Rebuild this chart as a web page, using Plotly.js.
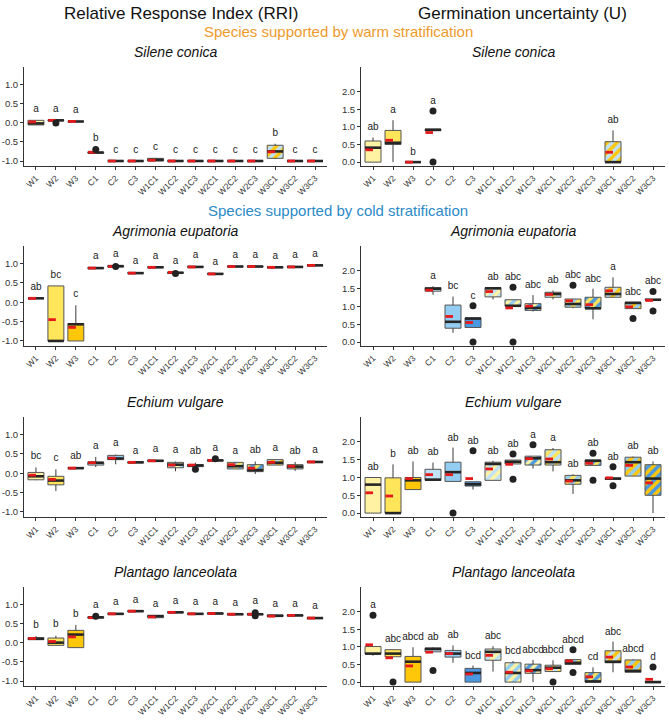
<!DOCTYPE html>
<html>
<head>
<meta charset="utf-8">
<script src="https://cdn.plot.ly/plotly-3.0.1.min.js"></script>
<style>
  html, body { margin: 0; padding: 0; background: #ffffff; }
  #chart { width: 669px; height: 723px; }
</style>
</head>
<body>
<div id="chart"></div>
<script>
// Treatments on every x axis
const treatments = ['W1','W2','W3','C1','C2','C3','W1C1','W1C2','W1C3','W2C1','W2C2','W2C3','W3C1','W3C2','W3C3'];

// ---- Relative Response Index, Silene conica ----
const rriSileneLo   = [-0.06, 0.05, 0.03, -0.79, -1, -1, -1.00, -1, -1, -1, -1, -1, -0.95, -1, -1];
const rriSileneQ1   = [-0.06, 0.05, 0.03, -0.79, -1, -1, -1.00, -1, -1, -1, -1, -1, -0.93, -1, -1];
const rriSileneMed  = [-0.02, 0.06, 0.03, -0.78, -1, -1, -0.97, -1, -1, -1, -1, -1, -0.75, -1, -1];
const rriSileneQ3   = [ 0.06, 0.07, 0.03, -0.77, -1, -1, -0.93, -1, -1, -1, -1, -1, -0.59, -1, -1];
const rriSileneHi   = [ 0.06, 0.07, 0.03, -0.76, -1, -1, -0.92, -1, -1, -1, -1, -1, -0.55, -1, -1];
const rriSileneMean = [ 0.02, 0.06, 0.03, -0.77, -1, -1, -0.98, -1, -1, -1, -1, -1, -0.76, -1, -1];
const rriSileneOut  = [[], [-0.01], [], [-0.70], [], [], [], [], [], [], [], [], [], [], []];
const rriSileneLet  = ['a','a','a','b','c','c','c','c','c','c','c','c','b','c','c'];

// ---- Germination uncertainty, Silene conica ----
const uSileneLo   = [0.00, 0.00, 0, 0.88, null, null, null, null, null, null, null, null, 0.00, null, null];
const uSileneQ1   = [0.00, 0.50, 0, 0.89, null, null, null, null, null, null, null, null, 0.00, null, null];
const uSileneMed  = [0.41, 0.55, 0, 0.92, null, null, null, null, null, null, null, null, 0.00, null, null];
const uSileneQ3   = [0.60, 0.90, 0, 0.93, null, null, null, null, null, null, null, null, 0.58, null, null];
const uSileneHi   = [0.70, 1.19, 0, 0.93, null, null, null, null, null, null, null, null, 0.90, null, null];
const uSileneMean = [0.35, 0.62, 0, 0.84, null, null, null, null, null, null, null, null, 0.28, null, null];
const uSileneOut  = [[], [], [], [1.45, 0.00], [], [], [], [], [], [], [], [], [], [], []];
const uSileneLet  = ['ab','a','b','a','','','','','','','','','ab','',''];

// ---- Relative Response Index, Agrimonia eupatoria ----
const rriAgrimoniaLo   = [0.10, -1.00, -1.00, 0.87, 0.91, 0.75, 0.90, 0.75, 0.91, 0.73, 0.92, 0.92, 0.90, 0.91, 0.95];
const rriAgrimoniaQ1   = [0.10, -1.00, -1.00, 0.87, 0.91, 0.75, 0.90, 0.75, 0.91, 0.73, 0.92, 0.92, 0.90, 0.91, 0.95];
const rriAgrimoniaMed  = [0.10, -1.00, -0.57, 0.88, 0.93, 0.75, 0.90, 0.76, 0.91, 0.73, 0.92, 0.92, 0.90, 0.91, 0.95];
const rriAgrimoniaQ3   = [0.10,  0.42, -0.55, 0.89, 0.94, 0.76, 0.91, 0.77, 0.92, 0.74, 0.93, 0.93, 0.91, 0.92, 0.96];
const rriAgrimoniaHi   = [0.10,  0.42, -0.08, 0.89, 0.94, 0.76, 0.91, 0.77, 0.92, 0.74, 0.93, 0.93, 0.91, 0.92, 0.96];
const rriAgrimoniaMean = [0.10, -0.45, -0.65, 0.88, 0.92, 0.75, 0.90, 0.77, 0.91, 0.73, 0.92, 0.92, 0.90, 0.91, 0.95];
const rriAgrimoniaOut  = [[], [], [], [], [0.92], [], [], [0.74], [], [], [], [], [], [], []];
const rriAgrimoniaLet  = ['ab','bc','c','a','a','a','a','a','a','a','a','a','a','a','a'];

// ---- Germination uncertainty, Agrimonia eupatoria ----
const uAgrimoniaLo   = [null, null, null, 1.33, 0.26, 0.41, 1.20, 1.01, 0.86, 1.20, 0.95, 0.64, 1.26, 0.94, 1.18];
const uAgrimoniaQ1   = [null, null, null, 1.43, 0.39, 0.41, 1.27, 1.01, 0.89, 1.26, 0.98, 0.94, 1.26, 0.94, 1.18];
const uAgrimoniaMed  = [null, null, null, 1.50, 0.57, 0.66, 1.51, 1.02, 0.96, 1.35, 1.07, 0.95, 1.35, 1.10, 1.19];
const uAgrimoniaQ3   = [null, null, null, 1.53, 1.04, 0.68, 1.53, 1.19, 1.08, 1.40, 1.21, 1.26, 1.54, 1.12, 1.20];
const uAgrimoniaHi   = [null, null, null, 1.57, 1.28, 0.68, 1.55, 1.19, 1.32, 1.45, 1.22, 1.50, 1.82, 1.13, 1.20];
const uAgrimoniaMean = [null, null, null, 1.46, 0.72, 0.55, 1.42, 0.96, 1.01, 1.34, 1.16, 1.05, 1.44, 0.99, 1.17];
const uAgrimoniaOut  = [[], [], [], [], [], [1.02, 0.00], [], [1.54, 0.00], [], [], [1.60], [], [], [0.66], [1.42, 0.87]];
const uAgrimoniaLet  = ['','','','a','bc','c','ab','abc','abc','ab','abc','abc','a','abc','abc'];

// ---- Relative Response Index, Echium vulgare ----
const rriEchiumLo   = [-0.18, -0.46, 0.13, 0.16, 0.23, 0.27, 0.31, 0.05, 0.17, 0.32, 0.11, -0.02, 0.21, 0.06, 0.28];
const rriEchiumQ1   = [-0.17, -0.30, 0.13, 0.21, 0.35, 0.27, 0.31, 0.14, 0.17, 0.32, 0.11,  0.04, 0.21, 0.11, 0.28];
const rriEchiumMed  = [-0.08, -0.19, 0.13, 0.27, 0.38, 0.28, 0.32, 0.22, 0.20, 0.33, 0.18,  0.08, 0.27, 0.17, 0.29];
const rriEchiumQ3   = [ 0.02, -0.08, 0.14, 0.28, 0.46, 0.29, 0.33, 0.28, 0.22, 0.34, 0.28,  0.22, 0.35, 0.22, 0.30];
const rriEchiumHi   = [ 0.15,  0.10, 0.14, 0.42, 0.48, 0.29, 0.33, 0.30, 0.27, 0.34, 0.29,  0.30, 0.36, 0.29, 0.30];
const rriEchiumMean = [-0.05, -0.16, 0.13, 0.27, 0.39, 0.28, 0.32, 0.21, 0.21, 0.33, 0.22,  0.13, 0.28, 0.18, 0.29];
const rriEchiumOut  = [[], [], [], [], [], [], [], [], [0.10], [0.37], [], [], [], [], []];
const rriEchiumLet  = ['bc','c','ab','a','a','a','a','a','ab','a','a','ab','a','ab','a'];

// ---- Germination uncertainty, Echium vulgare ----
const uEchiumLo   = [0.00, 0.00, 0.66, 0.90, 0.89, 0.66, 0.92, 1.38, 1.25, 1.17, 0.54, 1.34, 0.95, 1.04, 0.00];
const uEchiumQ1   = [0.00, 0.00, 0.66, 0.92, 0.89, 0.76, 0.92, 1.38, 1.35, 1.35, 0.81, 1.34, 0.95, 1.04, 0.50];
const uEchiumMed  = [0.80, 0.00, 0.92, 0.94, 1.15, 0.81, 1.38, 1.44, 1.54, 1.43, 0.92, 1.47, 0.97, 1.43, 0.97];
const uEchiumQ3   = [1.00, 0.99, 1.00, 1.23, 1.43, 0.88, 1.43, 1.49, 1.60, 1.78, 1.06, 1.49, 0.98, 1.57, 1.36];
const uEchiumHi   = [1.00, 1.37, 1.45, 1.42, 1.84, 0.88, 1.47, 1.49, 1.60, 1.83, 1.09, 1.49, 0.98, 1.59, 1.45];
const uEchiumMean = [0.57, 0.48, 0.97, 1.08, 1.08, 0.97, 1.24, 1.37, 1.53, 1.52, 0.90, 1.40, 0.99, 1.34, 0.85];
const uEchiumOut  = [[], [], [], [], [0.00], [1.75], [], [1.66, 0.95], [1.92], [], [], [1.68, 0.92], [1.30, 0.77], [], []];
const uEchiumLet  = ['ab','b','ab','ab','ab','ab','ab','ab','a','a','ab','ab','ab','ab','ab'];

// ---- Relative Response Index, Plantago lanceolata ----
const rriPlantagoLo   = [0.08, -0.07, -0.13, 0.64, 0.74, 0.81, 0.63, 0.78, 0.74, 0.75, 0.73, 0.73, 0.67, 0.70, 0.63];
const rriPlantagoQ1   = [0.08, -0.07, -0.13, 0.64, 0.74, 0.81, 0.65, 0.78, 0.74, 0.75, 0.73, 0.73, 0.68, 0.70, 0.63];
const rriPlantagoMed  = [0.10,  0.00,  0.21, 0.66, 0.75, 0.82, 0.69, 0.79, 0.75, 0.76, 0.74, 0.74, 0.70, 0.71, 0.64];
const rriPlantagoQ3   = [0.13,  0.12,  0.32, 0.67, 0.76, 0.83, 0.71, 0.80, 0.76, 0.77, 0.75, 0.75, 0.72, 0.72, 0.65];
const rriPlantagoHi   = [0.17,  0.18,  0.46, 0.67, 0.76, 0.83, 0.71, 0.80, 0.76, 0.77, 0.75, 0.75, 0.72, 0.72, 0.65];
const rriPlantagoMean = [0.11,  0.03,  0.15, 0.65, 0.75, 0.82, 0.67, 0.79, 0.75, 0.76, 0.74, 0.74, 0.69, 0.71, 0.64];
const rriPlantagoOut  = [[], [], [], [0.69], [], [], [], [], [], [], [], [0.78, 0.70], [], [], []];
const rriPlantagoLet  = ['b','b','b','a','a','a','a','a','a','a','a','a','a','a','a'];

// ---- Germination uncertainty, Plantago lanceolata ----
const uPlantagoLo   = [0.75, 0.72, 0.00, 0.85, 0.55, 0.00, 0.30, 0.00, 0.00, 0.30, 0.50, 0.00, 0.28, 0.28, 0.00];
const uPlantagoQ1   = [0.80, 0.72, 0.00, 0.86, 0.71, 0.00, 0.62, 0.00, 0.25, 0.30, 0.50, 0.00, 0.55, 0.28, 0.00];
const uPlantagoMed  = [0.81, 0.81, 0.58, 0.94, 0.81, 0.26, 0.86, 0.26, 0.34, 0.41, 0.55, 0.02, 0.58, 0.32, 0.00];
const uPlantagoQ3   = [1.01, 0.92, 0.73, 0.97, 0.90, 0.39, 0.94, 0.55, 0.51, 0.48, 0.64, 0.27, 0.89, 0.63, 0.02];
const uPlantagoHi   = [1.01, 0.93, 0.99, 0.99, 1.04, 0.47, 1.02, 0.60, 0.63, 0.62, 0.64, 0.42, 1.15, 0.65, 0.02];
const uPlantagoMean = [1.06, 0.69, 0.46, 0.85, 0.81, 0.23, 0.76, 0.28, 0.32, 0.38, 0.60, 0.15, 0.71, 0.43, 0.08];
const uPlantagoOut  = [[1.90], [0.00], [], [0.33], [], [], [], [], [], [0.00], [0.92, 0.27], [], [], [], [0.43]];
const uPlantagoLet  = ['a','abc','abcd','ab','ab','bcd','abc','bcd','abcd','abcd','abcd','cd','abc','abcd','d'];

// Species shown in each row
const speciesNames = ['Silene conica', 'Agrimonia eupatoria', 'Echium vulgare', 'Plantago lanceolata'];

// ---------------- styling ----------------
const FONT = 'Liberation Sans, Arial, Helvetica, sans-serif';
const warmColours = { W1: '#FFF3A3', W2: '#FFE55A', W3: '#FFC70A' };
const coldColours = { C1: '#BFE2F7', C2: '#93CDF2', C3: '#4A98E0' };
const OUTLINE = '#555555';
const BOX_W = 0.8;
const W = 669, H = 723;

const leftDomain  = [24 / W, 327 / W];
const rightDomain = [361 / W, 665 / W];
const rowPx = [[67, 166], [246, 346], [417, 517], [587, 686]];
const rowDomain = rowPx.map(([t, b]) => [1 - b / H, 1 - t / H]);

// solid fill for single treatments, warm/cold diagonal stripes for combined ones
function markerFor(t) {
  const w = (t.match(/W\d/) || [])[0];
  const c = (t.match(/C\d/) || [])[0];
  const line = { color: OUTLINE, width: 1 };
  if (w && c) {
    return {
      color: warmColours[w], line,
      pattern: { shape: '/', bgcolor: warmColours[w], fgcolor: coldColours[c],
                 fgopacity: 1, fillmode: 'replace', size: 7, solidity: 0.5 }
    };
  }
  return { color: w ? warmColours[w] : coldColours[c], line };
}

const traces = [];

function addPanel(n, lo, q1, med, q3, hi, mean, out, letters, gap) {
  const xa = 'x' + (n === 1 ? '' : n);
  const ya = 'y' + (n === 1 ? '' : n);
  const idx = treatments.map((_, i) => i).filter(i => med[i] !== null);

  // box bodies: one bar per treatment spanning the interquartile range
  idx.forEach(i => {
    traces.push({
      type: 'bar', xaxis: xa, yaxis: ya,
      x: [i], base: [q1[i]], y: [q3[i] - q1[i]],
      width: BOX_W, marker: markerFor(treatments[i]),
      hoverinfo: 'skip', showlegend: false
    });
  });

  // whiskers
  const wx = [], wy = [];
  idx.forEach(i => {
    wx.push(i, i, null, i, i, null);
    wy.push(q3[i], hi[i], null, q1[i], lo[i], null);
  });
  traces.push({ type: 'scatter', mode: 'lines', xaxis: xa, yaxis: ya, x: wx, y: wy,
    line: { color: '#3a3a3a', width: 1 }, hoverinfo: 'skip', showlegend: false });

  // medians
  const mx = [], my = [];
  idx.forEach(i => { mx.push(i - BOX_W / 2, i + BOX_W / 2, null); my.push(med[i], med[i], null); });
  traces.push({ type: 'scatter', mode: 'lines', xaxis: xa, yaxis: ya, x: mx, y: my,
    line: { color: '#262626', width: 2.6 }, hoverinfo: 'skip', showlegend: false });

  // means (red dash on the left half of each box)
  const ax = [], ay = [];
  idx.forEach(i => { ax.push(i - 0.38, i, null); ay.push(mean[i], mean[i], null); });
  traces.push({ type: 'scatter', mode: 'lines', xaxis: xa, yaxis: ya, x: ax, y: ay,
    line: { color: '#E41A1C', width: 2.8 }, hoverinfo: 'skip', showlegend: false });

  // outliers
  const ox = [], oy = [];
  idx.forEach(i => out[i].forEach(v => { ox.push(i); oy.push(v); }));
  traces.push({ type: 'scatter', mode: 'markers', xaxis: xa, yaxis: ya, x: ox, y: oy,
    marker: { color: '#222222', size: 7 }, hoverinfo: 'skip', showlegend: false });

  // group letters above the highest value of each treatment
  const li = idx.filter(i => letters[i]);
  traces.push({ type: 'scatter', mode: 'text', xaxis: xa, yaxis: ya,
    x: li, y: li.map(i => Math.max(hi[i], ...out[i]) + gap),
    text: li.map(i => letters[i]), textposition: 'middle center',
    textfont: { family: FONT, size: 10, color: '#222222' },
    hoverinfo: 'skip', showlegend: false, cliponaxis: false });
}

addPanel(1, rriSileneLo, rriSileneQ1, rriSileneMed, rriSileneQ3, rriSileneHi, rriSileneMean, rriSileneOut, rriSileneLet, 0.28);
addPanel(2, uSileneLo, uSileneQ1, uSileneMed, uSileneQ3, uSileneHi, uSileneMean, uSileneOut, uSileneLet, 0.27);
addPanel(3, rriAgrimoniaLo, rriAgrimoniaQ1, rriAgrimoniaMed, rriAgrimoniaQ3, rriAgrimoniaHi, rriAgrimoniaMean, rriAgrimoniaOut, rriAgrimoniaLet, 0.28);
addPanel(4, uAgrimoniaLo, uAgrimoniaQ1, uAgrimoniaMed, uAgrimoniaQ3, uAgrimoniaHi, uAgrimoniaMean, uAgrimoniaOut, uAgrimoniaLet, 0.27);
addPanel(5, rriEchiumLo, rriEchiumQ1, rriEchiumMed, rriEchiumQ3, rriEchiumHi, rriEchiumMean, rriEchiumOut, rriEchiumLet, 0.28);
addPanel(6, uEchiumLo, uEchiumQ1, uEchiumMed, uEchiumQ3, uEchiumHi, uEchiumMean, uEchiumOut, uEchiumLet, 0.27);
addPanel(7, rriPlantagoLo, rriPlantagoQ1, rriPlantagoMed, rriPlantagoQ3, rriPlantagoHi, rriPlantagoMean, rriPlantagoOut, rriPlantagoLet, 0.28);
addPanel(8, uPlantagoLo, uPlantagoQ1, uPlantagoMed, uPlantagoQ3, uPlantagoHi, uPlantagoMean, uPlantagoOut, uPlantagoLet, 0.27);

const layout = {
  width: W, height: H,
  margin: { l: 0, r: 0, t: 0, b: 0 },
  paper_bgcolor: '#ffffff', plot_bgcolor: '#ffffff',
  font: { family: FONT, color: '#222222' },
  showlegend: false, barmode: 'overlay',
  annotations: []
};

const rriTicks = [-1, -0.5, 0, 0.5, 1];
const uTicks = [0, 0.5, 1, 1.5, 2];

for (let n = 1; n <= 8; n++) {
  const row = Math.floor((n - 1) / 2);
  const left = (n % 2) === 1;
  const suffix = n === 1 ? '' : n;
  layout['xaxis' + suffix] = {
    domain: left ? leftDomain : rightDomain,
    anchor: 'y' + suffix,
    range: [-0.6, 14.6],
    tickmode: 'array',
    tickvals: treatments.map((_, i) => i),
    ticktext: treatments,
    tickangle: -45,
    ticks: 'outside', ticklen: 3, tickcolor: '#333333', tickwidth: 1,
    showline: true, linecolor: '#333333', linewidth: 1,
    showgrid: false, zeroline: false, fixedrange: true,
    tickfont: { family: FONT, size: 8.5, color: '#333333' }
  };
  const ticks = left ? rriTicks : uTicks;
  layout['yaxis' + suffix] = {
    domain: rowDomain[row],
    anchor: 'x' + suffix,
    range: left ? [-1.13, 1.45] : [-0.11, 2.7],
    tickmode: 'array',
    tickvals: ticks,
    ticktext: ticks.map(v => v.toFixed(1)),
    ticks: 'outside', ticklen: 3, tickcolor: '#333333', tickwidth: 1,
    showline: true, linecolor: '#333333', linewidth: 1,
    showgrid: false, zeroline: false, fixedrange: true,
    tickfont: { family: FONT, size: 9.5, color: '#333333' }
  };
  // species name over each panel
  const dom = left ? leftDomain : rightDomain;
  layout.annotations.push({
    xref: 'paper', yref: 'paper',
    x: (dom[0] + dom[1]) / 2, y: 1 - (rowPx[row][0] - 15) / H,
    text: '<i>' + speciesNames[row] + '</i>', showarrow: false,
    xanchor: 'center', yanchor: 'middle',
    font: { family: FONT, size: 14, color: '#111111' }
  });
}

// column headings and group headings
layout.annotations.push(
  { xref: 'paper', yref: 'paper', x: 181 / W, y: 1 - 13 / H, text: 'Relative Response Index (RRI)',
    showarrow: false, xanchor: 'center', yanchor: 'middle', font: { family: FONT, size: 17, color: '#111111' } },
  { xref: 'paper', yref: 'paper', x: 522 / W, y: 1 - 13 / H, text: 'Germination uncertainty (U)',
    showarrow: false, xanchor: 'center', yanchor: 'middle', font: { family: FONT, size: 17, color: '#111111' } },
  { xref: 'paper', yref: 'paper', x: 338 / W, y: 1 - 32 / H, text: 'Species supported by warm stratification',
    showarrow: false, xanchor: 'center', yanchor: 'middle', font: { family: FONT, size: 15, color: '#EE9A2B' } },
  { xref: 'paper', yref: 'paper', x: 338 / W, y: 1 - 210 / H, text: 'Species supported by cold stratification',
    showarrow: false, xanchor: 'center', yanchor: 'middle', font: { family: FONT, size: 15, color: '#2C8BC6' } }
);

Plotly.newPlot('chart', traces, layout, { displayModeBar: false, staticPlot: true });
</script>
</body>
</html>
